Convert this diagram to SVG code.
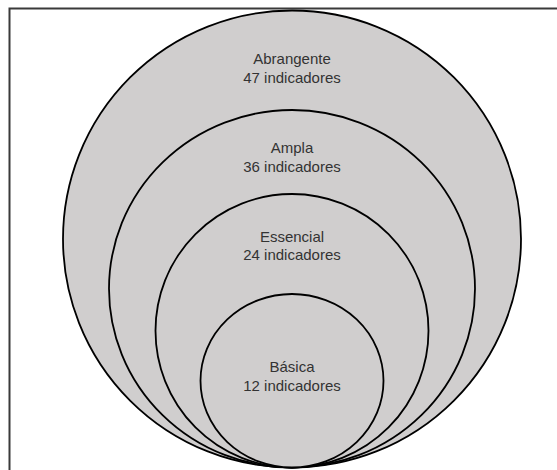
<svg xmlns="http://www.w3.org/2000/svg" width="557" height="470" viewBox="0 0 557 470">
  <style>
    .ring { fill: #d0cece; stroke: #000000; stroke-width: 1.8; }
    .lbl { font-family: "Liberation Sans", Arial, sans-serif; font-size: 15px; fill: #333333; text-anchor: middle; }
    .frame { fill: #ffffff; stroke: #3a3a3a; stroke-width: 2; }
  </style>
  <rect class="frame" x="9.5" y="8.5" width="600" height="520"/>
  <g id="abrangente">
    <ellipse class="ring" cx="292" cy="239" rx="229" ry="228.5"/>
    <text class="lbl" x="292" y="64">Abrangente</text>
    <text class="lbl" x="292" y="82.5">47 indicadores</text>
  </g>
  <g id="ampla">
    <ellipse class="ring" cx="292" cy="288.75" rx="183" ry="178.75"/>
    <text class="lbl" x="292" y="153.3">Ampla</text>
    <text class="lbl" x="292" y="171.5">36 indicadores</text>
  </g>
  <g id="essencial">
    <ellipse class="ring" cx="292" cy="330.75" rx="136.5" ry="136.75"/>
    <text class="lbl" x="292" y="241.7">Essencial</text>
    <text class="lbl" x="292" y="260">24 indicadores</text>
  </g>
  <g id="basica">
    <ellipse class="ring" cx="292" cy="380.75" rx="91.5" ry="86.75"/>
    <text class="lbl" x="292" y="372.3">Básica</text>
    <text class="lbl" x="292" y="390.7">12 indicadores</text>
  </g>
</svg>
